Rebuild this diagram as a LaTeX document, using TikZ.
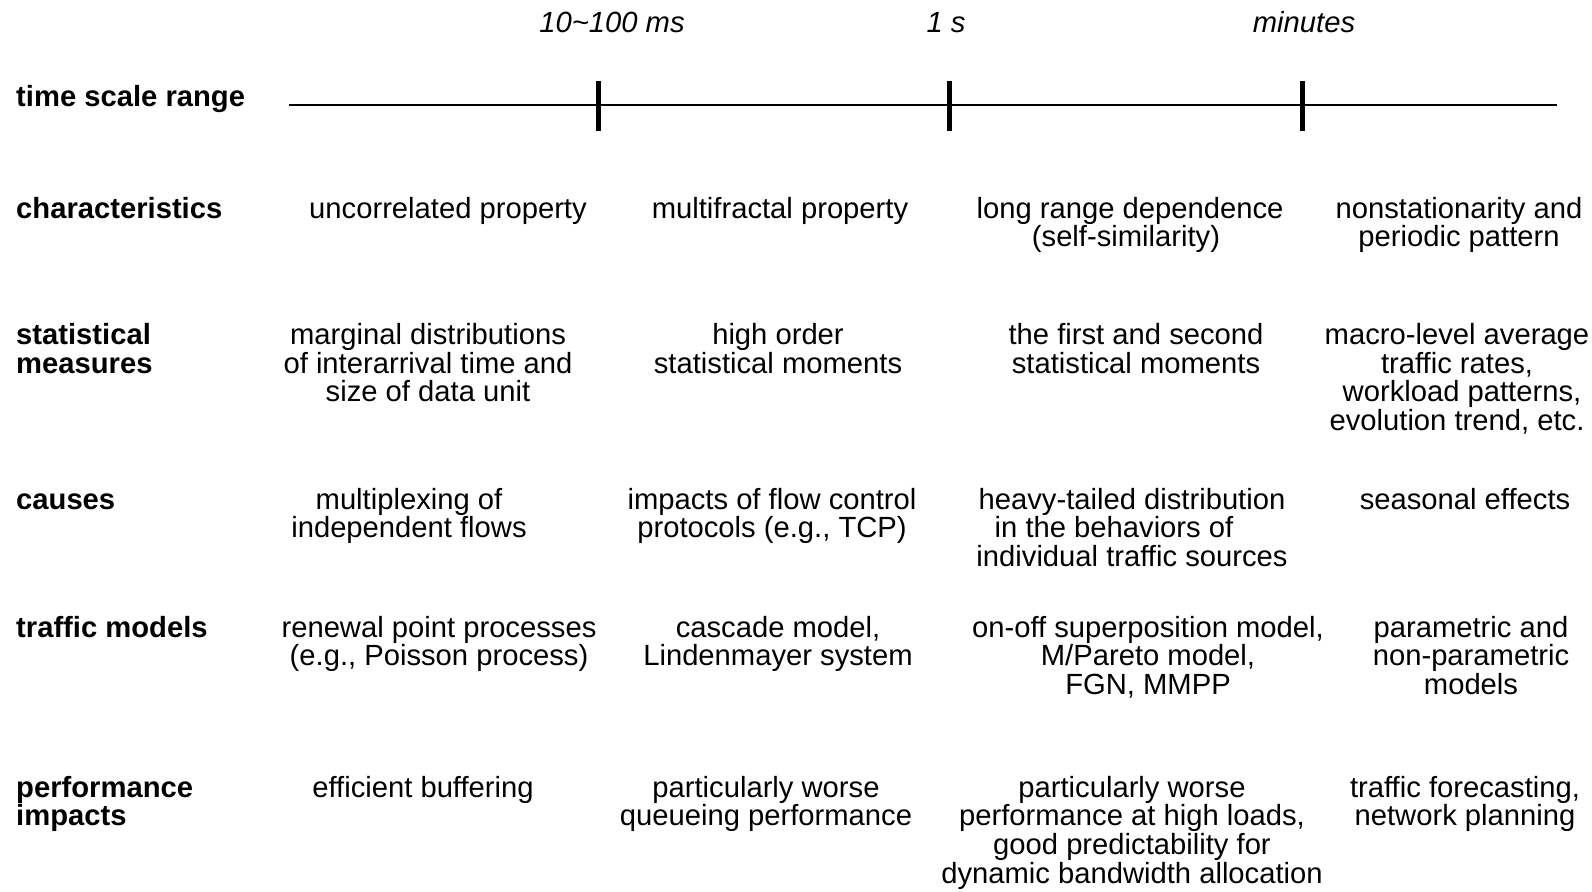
\documentclass[tikz,border=0pt]{standalone}
\usepackage{fontspec}
\setmainfont{Liberation Sans}
\begin{document}
\begin{tikzpicture}[x=1pt,y=-1pt,
  every node/.style={inner sep=0pt, font=\fontsize{29.2}{28.7}\selectfont},
  % multi-line nodes sit on the baseline of their last line
  rowlabel/.style={anchor=base west, align=left, font=\fontsize{29.2}{28.7}\selectfont\bfseries},
  cell/.style={anchor=base, align=center},
  scalelabel/.style={anchor=base, font=\fontsize{29.2}{28.7}\selectfont\itshape},
  axisline/.style={line width=2pt},
  scaletick/.style={line width=5pt}
]
\useasboundingbox (0,0) rectangle (1592,891);

% time axis with its three marks
\coordinate (axL) at (289,104.5);
\coordinate (axR) at (1557,104.5);
\draw[axisline] (axL) -- (axR);
\coordinate (ta) at (598,104.5);
\coordinate (tb) at (949,104.5);
\coordinate (tc) at (1302,104.5);
\foreach \t in {ta,tb,tc}
  \draw[scaletick] ([yshift=23.5pt]\t) -- ([yshift=-26.5pt]\t);

\node[scalelabel] (s1) at (612,33) {10\textasciitilde100 ms};
\node[scalelabel] (s2) at (946,33) {1 s};
\node[scalelabel] (s3) at (1304,33) {minutes};

% row headings
\node[rowlabel] (r0) at (16,106) {time scale range};
\node[rowlabel] (r1) at (16,218) {characteristics};
\node[rowlabel] (r2) at (16,373.2) {statistical\\measures};
\node[rowlabel] (r3) at (16,509) {causes};
\node[rowlabel] (r4) at (16,637) {traffic models};
\node[rowlabel] (r5) at (16,825.7) {performance\\impacts};

% characteristics
\node[cell] (c11) at (448,218) {uncorrelated property};
\node[cell] (c12) at (780,218) {multifractal property};
\node[cell] (c13) at (1130,246.7) {long range dependence\\(self-similarity)\rule{8pt}{0pt}};
\node[cell] (c14) at (1459,246.7) {nonstationarity and\\periodic pattern};

% statistical measures
\node[cell] (c21) at (428,401.9) {marginal distributions\\of interarrival time and\\size of data unit};
\node[cell] (c22) at (778,373.2) {high order\\statistical moments};
\node[cell] (c23) at (1136,373.2) {the first and second\\statistical moments};
\node[cell] (c24) at (1457,430.6) {macro-level average\\traffic rates,\\\hspace*{10pt}workload patterns,\\evolution trend, etc.};

% causes
\node[cell] (c31) at (409,537.7) {multiplexing of\\independent flows};
\node[cell] (c32) at (772,537.7) {impacts of flow control\\protocols (e.g., TCP)};
\node[cell] (c33) at (1132,566.4) {heavy-tailed distribution\\in the behaviors of\rule{36pt}{0pt}\\individual traffic sources};
\node[cell] (c34) at (1465,509) {seasonal effects};

% traffic models
\node[cell] (c41) at (439,665.7) {renewal point processes\\(e.g., Poisson process)};
\node[cell] (c42) at (778,665.7) {cascade model,\\Lindenmayer system};
\node[cell] (c43) at (1148,694.4) {on-off superposition model,\\M/Pareto model,\\FGN, MMPP};
\node[cell] (c44) at (1471,694.4) {parametric and\\non-parametric\\models};

% performance impacts
\node[cell] (c51) at (423,797) {efficient buffering};
\node[cell] (c52) at (766,825.7) {particularly worse\\queueing performance};
\node[cell] (c53) at (1132,883.1) {particularly worse\\performance at high loads,\\good predictability for\\dynamic bandwidth allocation};
\node[cell] (c54) at (1465,825.7) {traffic forecasting,\\network planning};
\end{tikzpicture}
\end{document}
